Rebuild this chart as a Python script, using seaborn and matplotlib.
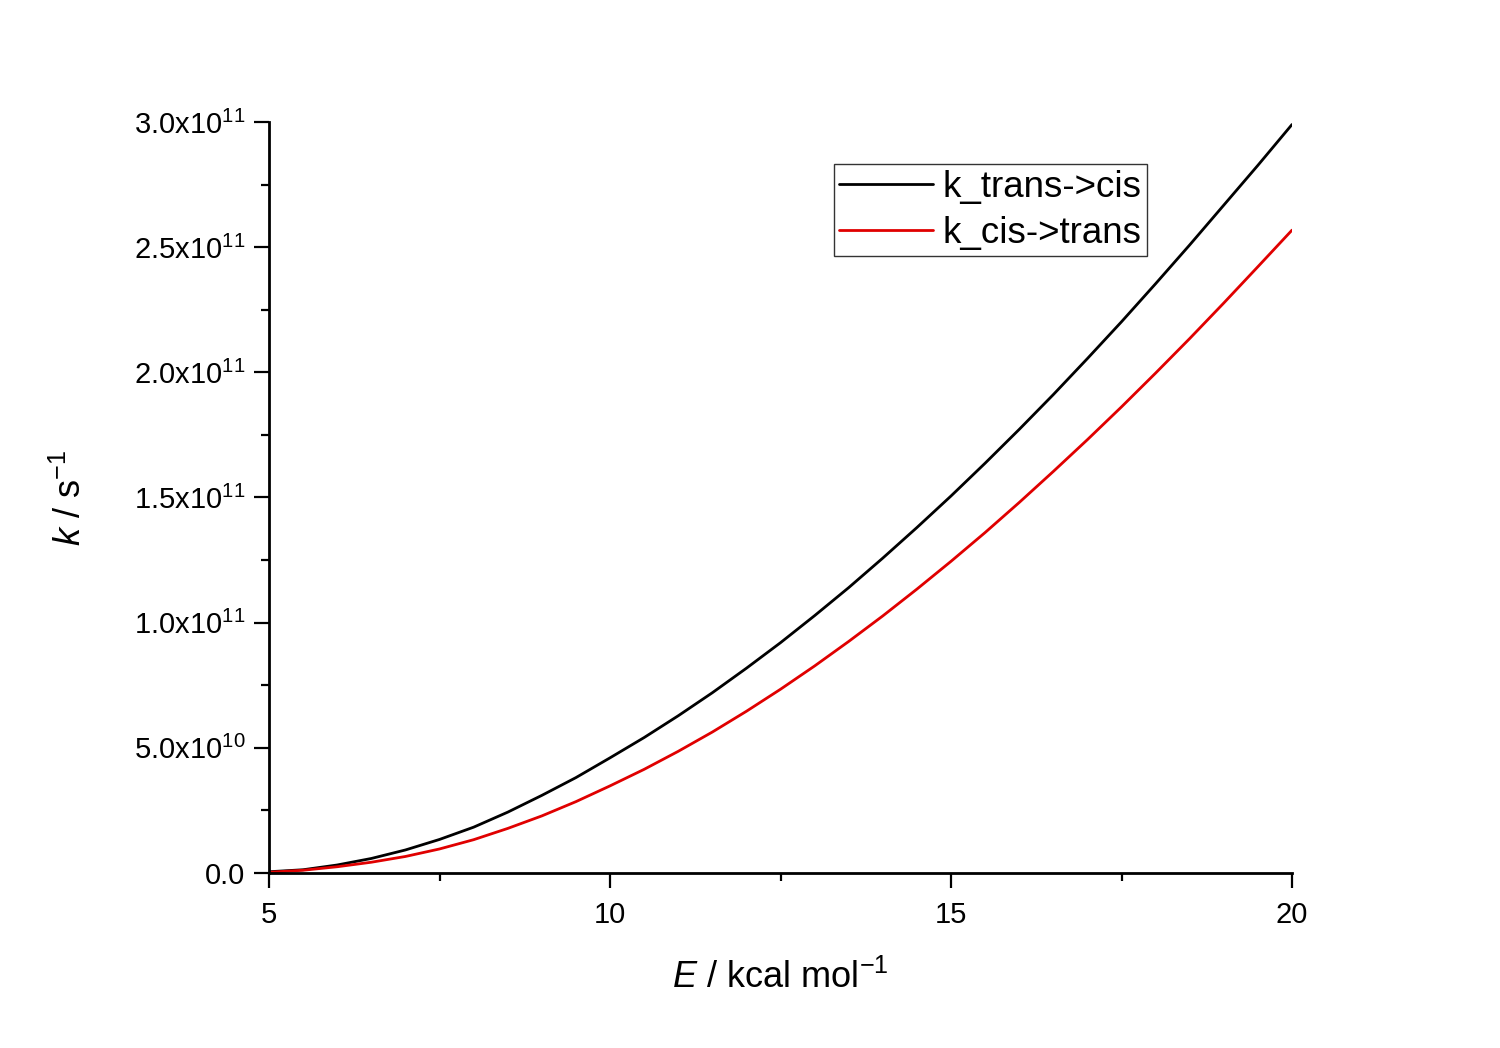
import numpy as np
import pandas as pd
import matplotlib
matplotlib.use("Agg")
import matplotlib.pyplot as plt
import seaborn as sns
from matplotlib.ticker import MultipleLocator, FuncFormatter
from matplotlib.lines import Line2D

# Data, k in units of 1e11 s^-1
E_vals = [5, 5.5, 6, 6.5, 7, 7.5, 8, 8.5, 9, 9.5, 10, 10.5, 11, 11.5, 12, 12.5, 13, 13.5,
          14, 14.5, 15, 15.5, 16, 16.5, 17, 17.5, 18, 18.5, 19, 19.5, 20]
k_trans_cis = [0.005, 0.013, 0.032, 0.058, 0.092, 0.134, 0.183, 0.243, 0.31, 0.381, 0.46,
               0.541, 0.628, 0.720, 0.818, 0.920, 1.028, 1.140, 1.258, 1.380, 1.506, 1.637,
               1.772, 1.911, 2.055, 2.202, 2.354, 2.509, 2.668, 2.827, 2.99]
k_cis_trans = [0.003, 0.011, 0.025, 0.043, 0.066, 0.096, 0.133, 0.178, 0.228, 0.285, 0.348,
               0.414, 0.486, 0.563, 0.646, 0.734, 0.827, 0.925, 1.027, 1.134, 1.245, 1.360,
               1.48, 1.604, 1.731, 1.862, 1.997, 2.135, 2.277, 2.422, 2.568]
series_names = ["k_trans->cis", "k_cis->trans"]
series_colors = ["#000000", "#e00000"]

df = pd.concat([
    pd.DataFrame({"E": E_vals, "k": np.array(k_trans_cis) * 1e11, "series": series_names[0]}),
    pd.DataFrame({"E": E_vals, "k": np.array(k_cis_trans) * 1e11, "series": series_names[1]}),
])

sns.set_theme(style="ticks")
plt.rcParams["font.family"] = ["Liberation Sans", "DejaVu Sans"]
plt.rcParams["mathtext.fontset"] = "custom"
plt.rcParams["mathtext.rm"] = "Liberation Sans"
plt.rcParams["mathtext.it"] = "Liberation Sans:italic"
plt.rcParams["mathtext.bf"] = "Liberation Sans:bold"
plt.rcParams["text.color"] = "black"
plt.rcParams["axes.labelcolor"] = "black"
plt.rcParams["xtick.color"] = "black"
plt.rcParams["ytick.color"] = "black"

fig = plt.figure(figsize=(15, 10.48), dpi=100)
ax = fig.add_axes([269/1500, 1-873/1048, (1292-269)/1500, (873-122)/1048])

sns.lineplot(data=df, x="E", y="k", hue="series", palette=dict(zip(series_names, series_colors)),
             linewidth=2.0, ax=ax, legend=False, sort=False, estimator=None)

ax.set_xlim(5, 20)
ax.set_ylim(0, 3.0e11)
ax.xaxis.set_major_locator(MultipleLocator(5))
ax.xaxis.set_minor_locator(MultipleLocator(2.5))
ax.yaxis.set_major_locator(MultipleLocator(0.5e11))
ax.yaxis.set_minor_locator(MultipleLocator(0.25e11))

def yfmt(v, pos):
    if abs(v) < 1:
        return "0.0"
    exp = int(np.floor(np.log10(abs(v)) + 1e-9))
    mant = v / 10**exp
    return r"%.1fx10$^{%d}$" % (mant, exp)

ax.yaxis.set_major_formatter(FuncFormatter(yfmt))
ax.xaxis.set_major_formatter(FuncFormatter(lambda v, p: "%d" % v))

for s in ["top", "right"]:
    ax.spines[s].set_visible(False)
for s in ["left", "bottom"]:
    ax.spines[s].set_linewidth(2.0)
    ax.spines[s].set_color("black")

ax.tick_params(axis="both", which="major", direction="out", length=11, width=1.6,
               labelsize=21, labelcolor="black", colors="black", pad=6)
ax.tick_params(axis="both", which="minor", direction="out", length=5.5, width=1.6, colors="black")
ax.tick_params(axis="x", which="major", pad=9)

ax.set_xlabel(r"$\it{E}$ / kcal mol$^{-1}$", fontsize=26, labelpad=22, color="black")
ax.set_ylabel(r"$\it{k}$ / s$^{-1}$", fontsize=26, labelpad=32, color="black")
ax.grid(False)

handles = [Line2D([0], [0], color=c, lw=2.0) for c in series_colors]
leg = ax.legend(handles, series_names, loc="upper right", bbox_to_anchor=(0.858, 0.944),
                borderaxespad=0, fontsize=26.5, frameon=True, fancybox=False,
                handlelength=2.55, handletextpad=0.25, borderpad=0.15, labelspacing=0.3)
leg.get_frame().set_edgecolor("black")
leg.get_frame().set_linewidth(1.0)
for t in leg.get_texts():
    t.set_color("black")

fig.savefig("out.png", dpi=100, facecolor="white")
